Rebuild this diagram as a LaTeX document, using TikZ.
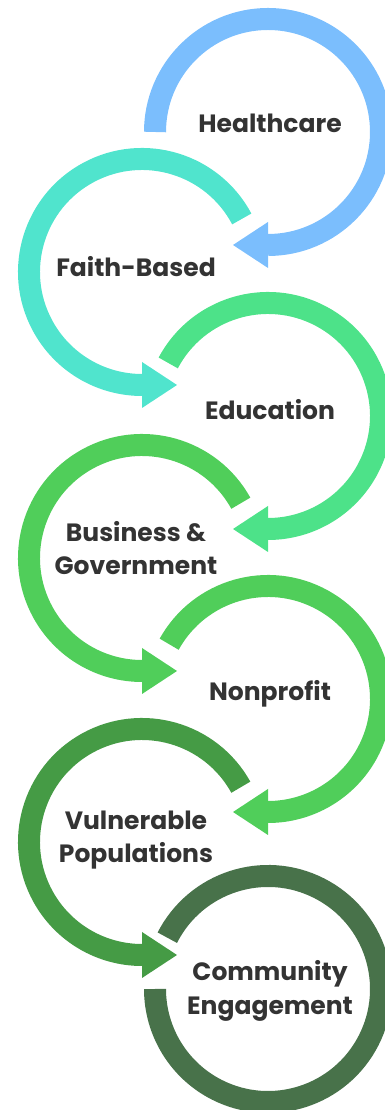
\documentclass[tikz,border=0pt]{standalone}
\usepackage{fontspec}
\setmainfont{Poppins}
\usepackage{tikz}
\definecolor{hcblue}{HTML}{7BBEFD}
\definecolor{faithteal}{HTML}{50E4CD}
\definecolor{edugreen}{HTML}{4DE289}
\definecolor{bizgreen}{HTML}{50CE5A}
\definecolor{vulngreen}{HTML}{459B45}
\definecolor{commgreen}{HTML}{48724A}
\definecolor{ink}{HTML}{333333}
\tikzset{
  band/.style={line width=0.55cm},
  stagetext/.style={font=\bfseries\fontsize{17.8}{23.6}\selectfont,
                    text=ink,align=center,inner sep=0pt},
  % loop on the right: runs clockwise, head points left at the bottom
  pics/rightloop/.style={code={
      \draw[band] (#1:113) arc[start angle=#1,end angle=-90,radius=113];
      \fill (0,-90) -- (0,-136) -- (-35,-113) -- cycle;
  }},
  % loop on the left: runs anticlockwise, head points right at the bottom
  pics/leftloop/.style={code={
      \draw[band] (#1:113) arc[start angle=#1,end angle=270,radius=113];
      \fill (0,-90) -- (0,-136) -- (35,-113) -- cycle;
  }}
}
\begin{document}
\begin{tikzpicture}[x=0.025cm,y=0.025cm]
    \useasboundingbox (0,0) rectangle (385,1110);
    \clip (0,0) rectangle (385,1110);
    \pic[color=hcblue]    at (268,978) {rightloop=180};
    \pic[color=faithteal] at (142,838) {leftloop=28};
    \pic[color=edugreen]  at (268,694) {rightloop=152};
    \pic[color=bizgreen]  at (142,552) {leftloop=29};
    \pic[color=bizgreen]  at (268,411) {rightloop=151};
    \pic[color=vulngreen] at (142,268) {leftloop=29};
    \draw[band,commgreen] (268,121) ++(153:113)
      arc[start angle=153,end angle=-180,radius=113];

    \node[stagetext] (health) at (270,987) {Healthcare};
    \node[stagetext] (faith)  at (136,843) {Faith-Based};
    \node[stagetext] (educ)   at (270,700) {Education};
    \node[stagetext] (biz)    at (136,562) {Business \&\\Government};
    \node[stagetext] (nonpr)  at (270,416) {Nonprofit};
    \node[stagetext] (vuln)   at (136,270) {Vulnerable\\Populations};
    \node[stagetext] (comm)   at (270,119) {Community\\Engagement};
  \end{tikzpicture}
\end{document}
